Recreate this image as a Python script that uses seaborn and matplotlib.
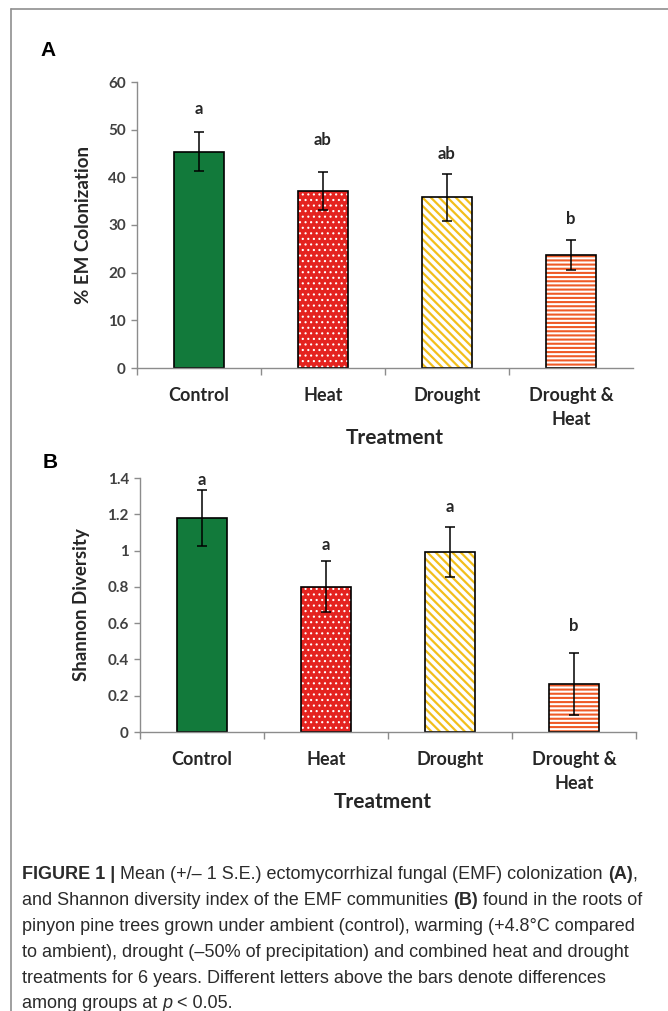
import numpy as np
import pandas as pd
import matplotlib
matplotlib.use("Agg")
import matplotlib.pyplot as plt
import seaborn as sns
from matplotlib.lines import Line2D

# ---------------- data ----------------
categories = ["Control", "Heat", "Drought", "Drought &\nHeat"]

colonization = [45.4, 37.1, 35.8, 23.7]
colonization_se = [4.1, 4.0, 5.0, 3.1]
colonization_letters = ["a", "ab", "ab", "b"]
colonization_letter_y = [54.3, 47.8, 44.9, 31.2]
colonization_yticks = [0, 10, 20, 30, 40, 50, 60]
colonization_yticklabels = ["0", "10", "20", "30", "40", "50", "60"]

diversity = [1.18, 0.80, 0.99, 0.265]
diversity_se = [0.155, 0.14, 0.138, 0.17]
diversity_letters = ["a", "a", "a", "b"]
diversity_letter_y = [1.39, 1.03, 1.24, 0.586]
diversity_yticks = [0, 0.2, 0.4, 0.6, 0.8, 1.0, 1.2, 1.4]
diversity_yticklabels = ["0", "0.2", "0.4", "0.6", "0.8", "1", "1.2", "1.4"]

fill_colors = ["#127A3B", "#E4231F", "#FFFFFF", "#FFFFFF"]
hatch_colors = [None, "#FFFFFF", "#F2BF1C", "#EF5A27"]
hatches = ["", "...", "\\\\\\\\", "----"]
hatch_widths = [1.0, 0.8, 1.6, 1.5]

caption_lines = [
    [("FIGURE 1 |", "b"), (" Mean (+/– 1 S.E.) ectomycorrhizal fungal (EMF) colonization ", "n"), ("(A)", "b"), (",", "n")],
    [("and Shannon diversity index of the EMF communities ", "n"), ("(B)", "b"), (" found in the roots of", "n")],
    [("pinyon pine trees grown under ambient (control), warming (+4.8°C compared", "n")],
    [("to ambient), drought (–50% of precipitation) and combined heat and drought", "n")],
    [("treatments for 6 years. Different letters above the bars denote differences", "n")],
    [("among groups at ", "n"), ("p", "i"), (" < 0.05.", "n")],
]

# ---------------- style ----------------
sns.set_style("white")
plt.rcParams["font.family"] = ["Lato", "DejaVu Sans"]
plt.rcParams["hatch.linewidth"] = 1.5

W, H = 668, 1011
fig = plt.figure(figsize=(W / 100, H / 100), dpi=100)
fig.patch.set_facecolor("white")

TXT = "#262626"
SPINE = "#8c8c8c"


def px_axes(left, top, right, bottom):
    return fig.add_axes([left / W, 1 - bottom / H, (right - left) / W, (bottom - top) / H])


def panel(ax, values, se, letters, letter_y, ymax, yticks, yticklabels, ylabel, xtick_bounds):
    df = pd.DataFrame({"Treatment": categories, "value": values})
    sns.barplot(data=df, x="Treatment", y="value", hue="Treatment", palette=fill_colors,
                legend=False, width=0.4, linewidth=0, saturation=1, ax=ax)
    fills = list(ax.patches)
    for p, h, hc, hw in zip(fills, hatches, hatch_colors, hatch_widths):
        if h:
            p.set_hatch(h)
            p.set_edgecolor(hc)
            if hasattr(p, "set_hatch_linewidth"):
                p.set_hatch_linewidth(hw)
    sns.barplot(data=df, x="Treatment", y="value", color="white", width=0.4,
                linewidth=1.2, edgecolor="black", saturation=1, ax=ax)
    for p in ax.patches[len(fills):]:
        p.set_facecolor("none")
        p.set_edgecolor("black")
    ax.errorbar(np.arange(len(categories)), values, yerr=se, fmt="none", ecolor="black",
                elinewidth=1.1, capsize=3.5, capthick=1.1, zorder=5)
    for i, (lt, ly) in enumerate(zip(letters, letter_y)):
        ax.text(i, ly, lt, ha="center", va="center", fontsize=12, fontweight="bold", color=TXT)

    ax.set_xlim(-0.5, 3.5)
    ax.set_ylim(0, ymax)
    ax.set_yticks(yticks)
    ax.set_yticklabels(yticklabels, fontsize=11, fontweight="bold", color="#404040")
    ax.set_xticks(range(len(categories)))
    ax.set_xticklabels(categories, fontsize=13, fontweight="bold", color=TXT, linespacing=1.5)
    ax.set_xticks(xtick_bounds, minor=True)
    ax.tick_params(axis="x", which="major", length=0, pad=14, bottom=True)
    ax.tick_params(axis="x", which="minor", length=5, color=SPINE, width=1, direction="out", bottom=True)
    ax.tick_params(axis="y", which="major", length=4, color=SPINE, width=1, direction="out", left=True, pad=4)
    for s in ["top", "right"]:
        ax.spines[s].set_visible(False)
    for s in ["left", "bottom"]:
        ax.spines[s].set_color(SPINE)
        ax.spines[s].set_linewidth(1)
    ax.set_ylabel(ylabel, fontsize=13.5, fontweight="bold", color=TXT)
    ax.set_xlabel("Treatment", fontsize=15, fontweight="bold", color=TXT)
    ax.grid(False)


axA = px_axes(137, 82, 633, 368)
panel(axA, colonization, colonization_se, colonization_letters, colonization_letter_y, 60,
      colonization_yticks, colonization_yticklabels, "% EM Colonization", [-0.5, 0.5, 1.5, 2.5])
axA.yaxis.set_label_coords(-0.09, 0.5)
axA.xaxis.set_label_coords(0.52, -0.21)

axB = px_axes(140, 478, 636, 732)
panel(axB, diversity, diversity_se, diversity_letters, diversity_letter_y, 1.4,
      diversity_yticks, diversity_yticklabels, "Shannon Diversity", [-0.5, 0.5, 1.5, 2.5, 3.5])
axB.yaxis.set_label_coords(-0.1, 0.5)
axB.xaxis.set_label_coords(0.49, -0.235)

# panel letters
fig.text(48 / W, 1 - 50 / H, "A", fontsize=15, fontweight="bold", ha="center", va="center",
         family=["Liberation Sans", "DejaVu Sans"], color="black")
fig.text(50 / W, 1 - 463 / H, "B", fontsize=15, fontweight="bold", ha="center", va="center",
         family=["Liberation Sans", "DejaVu Sans"], color="black")

# border lines
fig.add_artist(Line2D([11 / W, 1.0], [1 - 9 / H, 1 - 9 / H], color="#8f8f8f", lw=1.2, transform=fig.transFigure))
fig.add_artist(Line2D([11 / W, 11 / W], [1 - 9 / H, 0], color="#8f8f8f", lw=1.2, transform=fig.transFigure))

# caption
cap_family = ["Liberation Sans Narrow", "Liberation Sans", "DejaVu Sans"]
cap_size = 13.0
renderer = fig.canvas.get_renderer()
style_kw = {"n": dict(fontweight="normal", fontstyle="normal"),
            "b": dict(fontweight="bold", fontstyle="normal"),
            "i": dict(fontweight="normal", fontstyle="italic")}


def text_width(s, st):
    t = fig.text(0, 0, "|" + s + "|", fontsize=cap_size, family=cap_family, **style_kw[st])
    w1 = t.get_window_extent(renderer).width
    t.remove()
    t = fig.text(0, 0, "||", fontsize=cap_size, family=cap_family, **style_kw[st])
    w0 = t.get_window_extent(renderer).width
    t.remove()
    return w1 - w0


baseline0 = 879
for li, line in enumerate(caption_lines):
    x = 22
    y = baseline0 + li * 25.9
    for s, st in line:
        fig.text(x / W, 1 - y / H, s, fontsize=cap_size, family=cap_family, ha="left",
                 va="baseline", color="#2b2b2b", **style_kw[st])
        x += text_width(s, st)

fig.savefig("out.png", dpi=100, facecolor="white")
